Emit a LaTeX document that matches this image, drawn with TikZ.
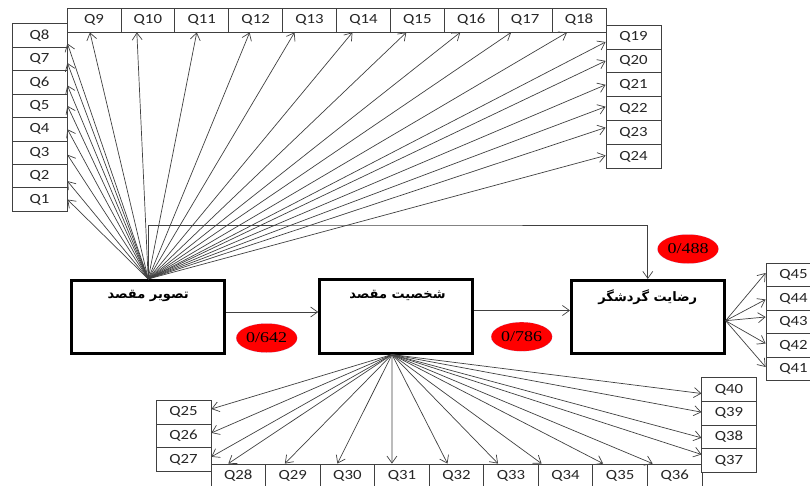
\documentclass[tikz,border=0pt]{standalone}
\usepackage{fontspec}
\setmainfont{Carlito}
\newfontfamily\qfont[FakeStretch=1.2]{Carlito}
\newfontfamily\fa[Script=Arabic]{DejaVu Sans}
\newfontfamily\tnr[FakeStretch=1.2]{Liberation Serif}
\TeXXeTstate=1
\usetikzlibrary{arrows.meta,shapes.geometric}
\begin{document}
\begin{tikzpicture}[x=1pt,y=-1pt,
  qbox/.style={draw=black!75,line width=0.8pt,fill=white,minimum width=55pt,minimum height=23.5pt,inner sep=0pt,font=\qfont\fontsize{14}{16}\selectfont,text=black!85},
  bigbox/.style={draw=black,line width=2.6pt,minimum width=153pt,minimum height=73.5pt,inner sep=0pt},
  title/.style={font=\fa\bfseries\fontsize{13}{15}\selectfont,inner sep=0pt},
  val/.style={ellipse,fill=red,draw=blue!50,densely dotted,line width=0.3pt,minimum width=61pt,minimum height=29pt,inner sep=0pt,font=\tnr\fontsize{15}{17}\selectfont},
  arr/.style={draw=black!75,line width=0.7pt,-{Straight Barb[length=7pt,width=10pt]}}]
\useasboundingbox (0,0) rectangle (810,486);
% main boxes
\node[bigbox] (b1) at (148.2,317) {};
\node[bigbox] (b2) at (396,316.5) {};
\node[bigbox] (b3) at (647.8,317) {};
\node[title] (t1) at ([yshift=-17pt]b1.north) {\beginR تصویر مقصد\endR};
\node[title] (t2) at ([yshift=-17pt,xshift=1.5pt]b2.north) {\beginR شخصیت مقصد\endR};
\node[title] (t3) at ([yshift=-18pt]b3.north) {\beginR رضایت گردشگر\endR};
% Q cells
\foreach \i in {1,...,8} \node[qbox] (Q\i) at (39.5,{35.5+(8-\i)*23.43}) {Q\i};
\foreach \i in {9,...,18} \node[qbox,minimum width=53.9pt,minimum height=24pt] (Q\i) at ({93.95+(\i-9)*53.9},20) {Q\i};
\foreach \i in {19,...,24} \node[qbox,minimum height=23.9pt] (Q\i) at (633.5,{37+(\i-19)*23.9}) {Q\i};
\foreach \i in {25,...,27} \node[qbox,minimum height=23.9pt] (Q\i) at (183.5,{412+(\i-25)*23.9}) {Q\i};
\foreach \i in {28,...,36} \node[qbox,minimum width=54.55pt,minimum height=24pt] (Q\i) at ({238.28+(\i-28)*54.55},476) {Q\i};
\foreach \i in {37,...,40} \node[qbox,minimum width=54.3pt,minimum height=23.65pt] (Q\i) at (729,{389.5+(40-\i)*23.65}) {Q\i};
\foreach \i in {41,...,45} \node[qbox] (Q\i) at (793.5,{275+(45-\i)*23.5}) {Q\i};
% fan from b1
\foreach \i/\s in {1/0,2/-5,3/-2,4/0,5/0,6/-3,7/-4,8/-8}
  \draw[arr] (b1.north) -- ([yshift=\s pt]Q\i.east);
\foreach \i/\s in {9/-4,10/-11,11/-5,12/-6,13/-15,14/-11,15/-11,16/-11,17/-14,18/-12}
  \draw[arr] (b1.north) -- ([xshift=\s pt]Q\i.south);
\foreach \i/\s in {19/-5,20/0,21/0,22/2,23/5,24/1}
  \draw[arr] (b1.north) -- ([yshift=\s pt]Q\i.west);
% fan from b2
\coordinate (s2) at ([xshift=-4pt]b2.south);
\foreach \i in {25,26,27}
  \draw[arr] (s2) -- ([yshift=3pt]Q\i.east);
\foreach \i/\s in {28/-10,29/-8,30/-10,31/-10,32/-9,33/-13,34/-24,35/-17,36/-22}
  \draw[arr] (s2) -- ([xshift=\s pt]Q\i.north);
\foreach \i/\s in {37/6,38/-1,39/1,40/-4}
  \draw[arr] (s2) -- ([yshift=\s pt]Q\i.west);
% fan from b3
\coordinate (s3) at ([yshift=-3.7pt]b3.east);
\foreach \i/\s in {41/2,42/2,43/5,44/-1,45/2}
  \draw[arr] (s3) -- ([yshift=\s pt]Q\i.west);
% structural paths
\coordinate (loop) at (400,225);
\draw[arr] (b1.north) |- (loop) -| (b3.north);
\draw[arr] ([yshift=5pt]b1.east) -- ([yshift=4.5pt]b2.west);
\draw[arr] ([yshift=6pt]b2.east) -- ([yshift=6.5pt]b3.west);
% values
\node[val] (e1) at (266.7,338) {0/642};
\node[val] (e2) at (521.7,336.7) {0/786};
\node[val] (e3) at (688,249) {0/488};
\end{tikzpicture}
\end{document}
